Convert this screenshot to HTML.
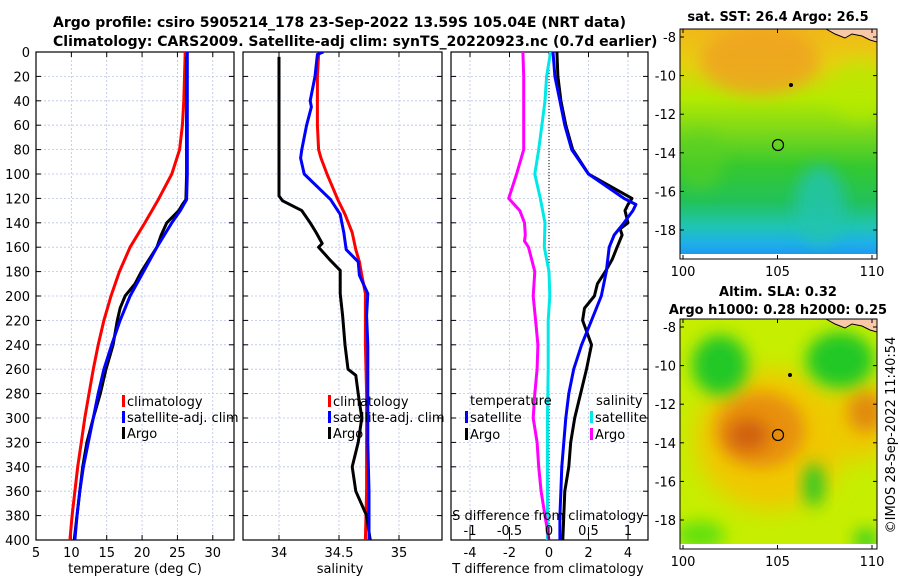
<!DOCTYPE html>
<html><head><meta charset="utf-8"><style>
html,body{margin:0;padding:0;background:#fff;}
svg{display:block;font-family:"DejaVu Sans","Liberation Sans",sans-serif;}
</style></head><body>
<svg id="fig" width="900" height="580" viewBox="0 0 900 580" xmlns="http://www.w3.org/2000/svg">
<defs>
<filter id="blur8" x="-50%" y="-50%" width="200%" height="200%"><feGaussianBlur stdDeviation="8"/></filter>
<filter id="blur12" x="-50%" y="-50%" width="200%" height="200%"><feGaussianBlur stdDeviation="12"/></filter>
<linearGradient id="sstgrad" x1="0" y1="0" x2="0" y2="1">
<stop offset="0" stop-color="#f2b81a"/><stop offset="0.15" stop-color="#e6d010"/><stop offset="0.3" stop-color="#b4ea00"/>
<stop offset="0.45" stop-color="#7ad81a"/><stop offset="0.6" stop-color="#34c830"/><stop offset="0.75" stop-color="#22c25a"/>
<stop offset="0.86" stop-color="#20c4b4"/><stop offset="0.93" stop-color="#1eb0e8"/><stop offset="1" stop-color="#1e90f0"/>
</linearGradient>
<clipPath id="clipm1"><rect x="680" y="29" width="197" height="230"/></clipPath>
<clipPath id="clipm2"><rect x="680" y="319" width="197" height="230"/></clipPath>
<clipPath id="clipp1"><rect x="36" y="52" width="198" height="488"/></clipPath>
<clipPath id="clipp2"><rect x="243" y="52" width="199" height="488"/></clipPath>
<clipPath id="clipp3"><rect x="451" y="52" width="197" height="488"/></clipPath>
</defs>
<text x="53" y="27" font-size="14" font-weight="bold">Argo profile: csiro 5905214_178 23-Sep-2022 13.59S 105.04E (NRT data)</text>
<text x="53" y="46" font-size="14" font-weight="bold">Climatology: CARS2009. Satellite-adj clim: synTS_20220923.nc (0.7d earlier)</text>
<g id="p1"></g>
<g id="p2"></g>
<g id="p3"></g>

<g>
<g clip-path="url(#clipm1)">
<rect x="680" y="29" width="197" height="230" fill="url(#sstgrad)"/>
<ellipse cx="760" cy="60" rx="60" ry="35" fill="#f0a020" opacity="0.8" filter="url(#blur8)"/>
<ellipse cx="860" cy="90" rx="30" ry="30" fill="#b8ea00" opacity="0.7" filter="url(#blur8)"/>
<ellipse cx="820" cy="205" rx="25" ry="40" fill="#22c4b0" opacity="0.8" filter="url(#blur8)"/>
<ellipse cx="700" cy="160" rx="25" ry="30" fill="#5ad020" opacity="0.6" filter="url(#blur8)"/>
<rect x="680" y="254" width="197" height="5" fill="#fff"/>
<path d="M826,29 L835,34 L845,38 L852,34 L862,36 L870,40 L877,42 L877,29 Z" fill="#f8c8a8" stroke="#000" stroke-width="1"/>
<circle cx="791" cy="85" r="2" fill="#000"/>
<circle cx="778" cy="145" r="5.5" fill="none" stroke="#000" stroke-width="1.2"/>
</g>
<rect x="680" y="29" width="197" height="230" fill="none" stroke="#000" stroke-width="1"/>
</g>
<text x="778" y="21" font-size="13" font-weight="bold" text-anchor="middle">sat. SST: 26.4 Argo: 26.5</text>

<g>
<g clip-path="url(#clipm2)">
<rect x="680" y="319" width="197" height="230" fill="#c6ee00"/>
<ellipse cx="770" cy="440" rx="75" ry="70" fill="#f0c800" filter="url(#blur12)"/>
<ellipse cx="860" cy="420" rx="35" ry="40" fill="#f0c800" filter="url(#blur12)"/>
<ellipse cx="760" cy="430" rx="45" ry="38" fill="#e89010" filter="url(#blur8)"/>
<ellipse cx="748" cy="435" rx="20" ry="16" fill="#d06010" filter="url(#blur8)"/>
<ellipse cx="866" cy="412" rx="18" ry="20" fill="#e08a10" filter="url(#blur8)"/>
<ellipse cx="720" cy="365" rx="28" ry="30" fill="#20c828" filter="url(#blur8)"/>
<ellipse cx="840" cy="360" rx="34" ry="28" fill="#20c828" filter="url(#blur8)"/>
<ellipse cx="814" cy="485" rx="10" ry="22" fill="#28c828" filter="url(#blur8)"/>
<ellipse cx="700" cy="535" rx="25" ry="14" fill="#60e010" filter="url(#blur8)"/>
<ellipse cx="866" cy="540" rx="12" ry="12" fill="#40d020" filter="url(#blur8)"/>
<rect x="680" y="544" width="197" height="5" fill="#fff"/>
<path d="M826,319 L835,324 L845,328 L852,324 L862,326 L870,330 L877,332 L877,319 Z" fill="#f8c8a8" stroke="#000" stroke-width="1"/>
<circle cx="790" cy="375" r="2" fill="#000"/>
<circle cx="778" cy="435" r="5.5" fill="none" stroke="#000" stroke-width="1.2"/>
</g>
<rect x="680" y="319" width="197" height="230" fill="none" stroke="#000" stroke-width="1"/>
</g>
<text x="778" y="296" font-size="13" font-weight="bold" text-anchor="middle">Altim. SLA: 0.32</text>
<text x="778" y="314" font-size="13" font-weight="bold" text-anchor="middle">Argo h1000: 0.28 h2000: 0.25</text>
<text transform="translate(895,435) rotate(-90)" font-size="13" text-anchor="middle">©IMOS 28-Sep-2022 11:40:54</text>
<g id="mapaxes"></g>
</svg>
<script>
// ---- data ----
const depthsT = [0,20,40,60,80,100,121,140,160,180,200,220,240,260,280,300,320,340,360,380,400];
const climT = [26.1,26.0,25.9,25.7,25.3,24.2,22.3,20.4,18.3,16.8,15.6,14.6,13.8,13.1,12.5,11.9,11.4,10.9,10.5,10.1,9.8];
const satDepthT = [0,20,40,60,80,100,121,130,140,160,180,200,220,240,260,280,300,320,340,360,380,400];
const satT  = [26.4,26.4,26.4,26.4,26.4,26.4,26.3,25.4,24.2,22.1,20.2,18.3,16.9,15.7,14.6,13.8,13.1,12.4,11.7,11.2,10.8,10.5];
const argoDepthT = [4,20,40,60,80,100,121,125,130,140,150,160,170,180,190,200,210,220,240,260,280,300,320,340,360,380,400];
const argoT = [26.3,26.3,26.3,26.3,26.3,26.3,26.2,25.7,25.2,23.5,22.7,22.1,21.0,19.9,19.0,17.6,16.9,16.5,15.9,14.9,14.1,13.1,12.2,11.6,11.2,10.8,10.4];

const depthsS = [0,2,20,40,45,60,80,87,100,121,133,148,162,172,183,198,216,240,280,320,360,400];
const climS = [34.35,34.33,34.32,34.32,34.32,34.32,34.33,34.35,34.40,34.49,34.55,34.61,34.64,34.67,34.69,34.72,34.72,34.72,34.73,34.73,34.73,34.72];
const satS  = [34.37,34.32,34.30,34.26,34.27,34.23,34.19,34.18,34.21,34.43,34.51,34.54,34.56,34.66,34.67,34.74,34.73,34.74,34.74,34.74,34.75,34.75];
const argoDepthS = [4,40,80,100,118,122,130,140,148,157,160,171,179,198,216,240,260,265,280,300,320,340,360,380,400];
const argoS = [34.0,34.0,34.0,34.0,34.0,34.03,34.19,34.26,34.31,34.36,34.33,34.43,34.51,34.51,34.53,34.55,34.575,34.64,34.66,34.69,34.66,34.61,34.64,34.73,34.76];

const satDTDepth = [0,20,40,60,80,100,120,125,130,140,150,160,180,200,220,240,260,280,300,320,340,360,380,400];
const satDT  = [0.2,0.3,0.55,0.8,1.15,2.0,3.8,4.4,4.25,3.8,3.3,3.05,2.9,2.65,2.15,1.65,1.25,1.0,0.85,0.75,0.65,0.6,0.55,0.55];
const argoDTDepth = [0,20,40,60,80,100,120,125,130,140,145,150,160,170,180,190,200,210,220,240,260,280,300,320,340,360,380,400];
const argoDT = [0.4,0.45,0.6,0.85,1.2,2.0,4.2,4.0,3.85,4.0,3.6,3.7,3.45,3.2,2.85,2.45,2.3,1.8,1.7,2.15,1.9,1.6,1.3,1.1,1.0,0.8,0.75,0.7];
const satDSDepth = [0,20,40,60,80,100,120,140,160,180,200,220,260,300,340,400];
const satDS  = [0.02,-0.03,-0.05,-0.09,-0.13,-0.18,-0.11,-0.05,-0.06,0.0,0.01,-0.01,-0.01,-0.02,-0.02,-0.02];
const argoDSDepth = [0,20,40,60,80,100,120,130,140,150,155,160,180,200,220,240,260,280,300,320,340,360,380,400];
const argoDS = [-0.33,-0.32,-0.32,-0.32,-0.32,-0.41,-0.51,-0.37,-0.31,-0.30,-0.31,-0.26,-0.18,-0.2,-0.17,-0.14,-0.15,-0.18,-0.2,-0.15,-0.13,-0.1,-0.05,0.0];

const depthTicks = [0,20,40,60,80,100,120,140,160,180,200,220,240,260,280,300,320,340,360,380,400];
const tTicks = [5,10,15,20,25,30];
const sTicks = [34,34.5,35];
const dTTicks = [-4,-2,0,2,4];
const dSTicks = [-1,-0.5,0,0.5,1];
const latTicks = [-8,-10,-12,-14,-16,-18];
const lonTicks = [100,105,110];

// ---- axes ----
const NS="http://www.w3.org/2000/svg";
const y = d => 52 + d*(488/400);
const xT = v => 36 + (v-5)*(198/28);
const xS = v => 279 + (v-34)*120;
const xDT = v => 549 + v*19.75;
const xDS = v => 549 + v*79;
const latY1 = v => 37 + (-8 - v)*19.3;
const latY2 = v => 327 + (-8 - v)*19.3;
const lonX = v => 683 + (v-100)*18.9;

function mk(parent, tag, attrs){const e=document.createElementNS(NS,tag);for(const k in attrs)e.setAttribute(k,attrs[k]);parent.appendChild(e);return e;}
function txt(parent, x0, y0, s, size, anchor){const t=mk(parent,'text',{x:x0,y:y0,'font-size':size,'text-anchor':anchor||'middle'});t.textContent=s;return t;}

function panel(g, x0, x1, xticks, xf, showY){
  for(const d of depthTicks){
    const l=mk(g,'line',{x1:x0,x2:x1,y1:y(d),y2:y(d),stroke:'#b8c4e8','stroke-width':0.8,'stroke-dasharray':'2,2'});
    
    
    mk(g,'line',{x1:x0,x2:x0+5,y1:y(d),y2:y(d),stroke:'#000'});
    mk(g,'line',{x1:x1-5,x2:x1,y1:y(d),y2:y(d),stroke:'#000'});
    if(showY){
      const t=txt(g,30,y(d)+5,String(d),13,'end');
      
      
    }
  }
  for(const v of xticks){
    const X=xf(v);
    const l=mk(g,'line',{x1:X,x2:X,y1:52,y2:540,stroke:'#b8c4e8','stroke-width':0.8,'stroke-dasharray':'2,2'});
    
    
    mk(g,'line',{x1:X,x2:X,y1:535,y2:540,stroke:'#000'});
    mk(g,'line',{x1:X,x2:X,y1:52,y2:57,stroke:'#000'});
    const t=txt(g,X,557,String(v),13);
    
    
  }
  const r=mk(g,'rect',{x:x0,y:52,width:x1-x0,height:488,fill:'none',stroke:'#000','stroke-width':1.2});
  
  
}
function line(g, xs, ds, xf, color, name, clip){
  const pts=xs.map((v,i)=>xf(v).toFixed(1)+','+y(ds[i]).toFixed(1)).join(' ');
  const p=mk(g,'polyline',{points:pts,fill:'none',stroke:color,'stroke-width':3,'stroke-linejoin':'round','clip-path':clip});
  
  
}
function legendEntry(g,x0,y0,color,label){
  mk(g,'rect',{x:x0,y:y0-11,width:3,height:12,fill:color});
  const t=txt(g,x0+5,y0,label,13,'start');
  
  
}

const p1=document.getElementById('p1');
panel(p1,36,234,tTicks,xT,true);
line(p1,climT,depthsT,xT,'#ff0000','climatology-temp-line','url(#clipp1)');
line(p1,argoT,argoDepthT,xT,'#000000','argo-temp-line','url(#clipp1)');
line(p1,satT,satDepthT,xT,'#0000ff','satellite-temp-line','url(#clipp1)');
legendEntry(p1,122,406,'#ff0000','climatology');
legendEntry(p1,122,422,'#0000ff','satellite-adj. clim');
legendEntry(p1,122,438,'#000000','Argo');
const xl1=txt(p1,135,573,'temperature (deg C)',13);



const p2=document.getElementById('p2');
panel(p2,243,442,sTicks,xS,false);
line(p2,climS,depthsS,xS,'#ff0000','climatology-salinity-line','url(#clipp2)');
line(p2,argoS,argoDepthS,xS,'#000000','argo-salinity-line','url(#clipp2)');
line(p2,satS,depthsS,xS,'#0000ff','satellite-salinity-line','url(#clipp2)');
legendEntry(p2,328,406,'#ff0000','climatology');
legendEntry(p2,328,422,'#0000ff','satellite-adj. clim');
legendEntry(p2,328,438,'#000000','Argo');
const xl2=txt(p2,340,573,'salinity',13);



const p3=document.getElementById('p3');
panel(p3,451,648,dTTicks,xDT,false);
const zl=mk(p3,'line',{x1:xDT(0),x2:xDT(0),y1:52,y2:540,stroke:'#000','stroke-width':1,'stroke-dasharray':'1,2'});


line(p3,satDS,satDSDepth,xDS,'#00e8e8','satellite-salinity-diff-line','url(#clipp3)');
line(p3,argoDS,argoDSDepth,xDS,'#ff00ff','argo-salinity-diff-line','url(#clipp3)');
line(p3,argoDT,argoDTDepth,xDT,'#000000','argo-temp-diff-line','url(#clipp3)');
line(p3,satDT,satDTDepth,xDT,'#0000ff','satellite-temp-diff-line','url(#clipp3)');
const lt=txt(p3,470,405,'temperature',13,'start');


const ls=txt(p3,596,405,'salinity',13,'start');


legendEntry(p3,465,422,'#0000ff','satellite');
legendEntry(p3,465,439,'#000000','Argo');
legendEntry(p3,590,422,'#00e8e8','satellite');
legendEntry(p3,590,439,'#ff00ff','Argo');
const st=txt(p3,548,520,'S difference from climatology',13);


for(const v of dSTicks){
  const X=xDS(v);
  mk(p3,'line',{x1:X,x2:X,y1:527,y2:540,stroke:'#000'});
  const t=txt(p3,X,535,String(v),13);
  
  
}
const xl3=txt(p3,548,573,'T difference from climatology',13);



const ma=document.getElementById('mapaxes');
for(const [latY,yb] of [[latY1,259],[latY2,549]]){
  for(const v of latTicks){
    const Y=latY(v);
    mk(ma,'line',{x1:680,x2:684,y1:Y,y2:Y,stroke:'#000'});
    mk(ma,'line',{x1:873,x2:877,y1:Y,y2:Y,stroke:'#000'});
    const t=txt(ma,676,Y+5,String(v),13,'end');
    
    
  }
  for(const v of lonTicks){
    const X=lonX(v);
    mk(ma,'line',{x1:X,x2:X,y1:yb-4,y2:yb,stroke:'#000'});
    mk(ma,'line',{x1:X,x2:X,y1:yb-230,y2:yb-226,stroke:'#000'});
    const t=txt(ma,X,yb+17,String(v),13);
    
    
  }
}
</script>
</body></html>
